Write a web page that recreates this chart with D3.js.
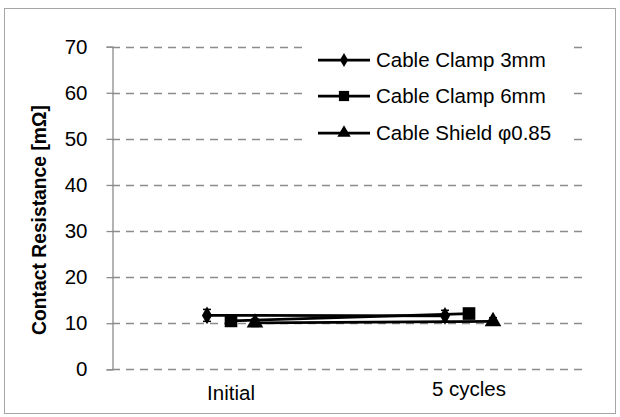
<!DOCTYPE html>
<html><head><meta charset="utf-8">
<script src="https://cdn.jsdelivr.net/npm/d3@7/dist/d3.min.js"></script>
<style>body{margin:0;background:#fff}svg{display:block;font-family:"Liberation Sans",Arial,sans-serif}</style>
</head><body><svg id="c" width="620" height="417"></svg>
<script>
const categories = ["Initial", "5 cycles"];
const seriesNames = ["Cable Clamp 3mm", "Cable Clamp 6mm", "Cable Shield φ0.85"];
const clamp3 = [11.7, 11.6];
const clamp6 = [10.5, 12.1];
const shield = [10.1, 10.4];
const clamp3Err = [1.3, 1.2];
const clamp6Err = [0.8, 0.8];
const shieldErr = [0.8, 0.8];
const yTicks = [0, 10, 20, 30, 40, 50, 60, 70];
const symbols = [d3.symbolDiamond, d3.symbolSquare, d3.symbolTriangle];
const symSizes = [90, 160, 120];

const series = [clamp3, clamp6, shield].map((v, i) => ({name: seriesNames[i], values: v, err: [clamp3Err, clamp6Err, shieldErr][i], sym: symbols[i], size: symSizes[i]}));

const FONT = "Liberation Sans, Arial, sans-serif";
const svg = d3.select("#c");
svg.append("rect").attr("x", 4.5).attr("y", 8.5).attr("width", 611).attr("height", 405).attr("fill", "#fff").attr("stroke", "#a6a6a6").attr("stroke-width", 1);

const L = 112, R = 588, T = 46.7, B = 369.3;
const x = d3.scaleBand().domain(categories).range([L, R]);
const off = d3.scalePoint().domain(seriesNames).range([-24, 24]);
const y = d3.scaleLinear().domain([0, 70]).range([B, T]);

// gridlines
svg.append("g").selectAll("line").data(yTicks).join("line")
  .attr("x1", L).attr("x2", R).attr("y1", d => Math.round(y(d)) + 0.5).attr("y2", d => Math.round(y(d)) + 0.5)
  .attr("stroke", "#8c8c8c").attr("stroke-width", 1.3).attr("stroke-dasharray", "8,6");

// y axis
const ya = svg.append("g").attr("transform", `translate(${L + 0.5},0)`)
  .call(d3.axisLeft(y).tickValues(yTicks).tickSize(6).tickPadding(19));
ya.select(".domain").attr("stroke", "#8c8c8c").attr("stroke-width", 1.3);
ya.selectAll(".tick line").attr("stroke", "#8c8c8c").attr("stroke-width", 1.3);
ya.selectAll(".tick text").attr("font-size", 20.5).attr("fill", "#000").attr("font-family", FONT);

// x axis labels
const xa = svg.append("g").attr("transform", `translate(0,${B})`)
  .call(d3.axisBottom(x).tickSize(0).tickPadding(0));
xa.select(".domain").remove();
xa.selectAll(".tick text").attr("font-size", 20.5).attr("fill", "#000").attr("font-family", FONT)
  .attr("y", (d, i) => i === 0 ? 24 : 20).attr("dy", "0.35em");

// y title
svg.append("text").attr("transform", `translate(39,220) rotate(-90)`).attr("text-anchor", "middle")
  .attr("dy", "0.35em").attr("font-size", 19.3).attr("font-weight", "bold").attr("font-family", FONT)
  .text("Contact Resistance [mΩ]");

// lines
const px = (s, i) => x(categories[i]) + x.bandwidth() / 2 + off(s.name);
series.forEach(s => {
  const line = d3.line().x((d, i) => px(s, i)).y(d => y(d));
  svg.append("path").attr("d", line(s.values)).attr("fill", "none").attr("stroke", "#000").attr("stroke-width", 2.75);
});
// error bars and markers
series.forEach(s => {
  s.values.forEach((v, i) => {
    const cx = px(s, i);
    const g = svg.append("g").attr("stroke", "#000").attr("stroke-width", 1.5);
    g.append("line").attr("x1", cx).attr("x2", cx).attr("y1", y(v - s.err[i])).attr("y2", y(v + s.err[i]));
    [v - s.err[i], v + s.err[i]].forEach(e => g.append("line").attr("x1", cx - 4).attr("x2", cx + 4).attr("y1", y(e)).attr("y2", y(e)));
    svg.append("path").attr("d", d3.symbol().type(s.sym).size(s.size)())
      .attr("transform", `translate(${cx},${y(v)})`).attr("fill", "#000");
  });
});

// legend
const lg = svg.append("g");
lg.append("rect").attr("x", 304).attr("y", 40).attr("width", 268).attr("height", 112).attr("fill", "#fff");
const rowsY = [60, 96, 133];
series.forEach((s, i) => {
  lg.append("line").attr("x1", 318).attr("x2", 370).attr("y1", rowsY[i]).attr("y2", rowsY[i]).attr("stroke", "#000").attr("stroke-width", 2.75);
  lg.append("path").attr("d", d3.symbol().type(s.sym).size(s.size * 0.65)()).attr("transform", `translate(344,${rowsY[i]})`).attr("fill", "#000");
  lg.append("text").attr("x", 376).attr("y", rowsY[i]).attr("dy", "0.35em").attr("font-size", 20.5).attr("font-family", FONT).text(s.name);
});
</script></body></html>
